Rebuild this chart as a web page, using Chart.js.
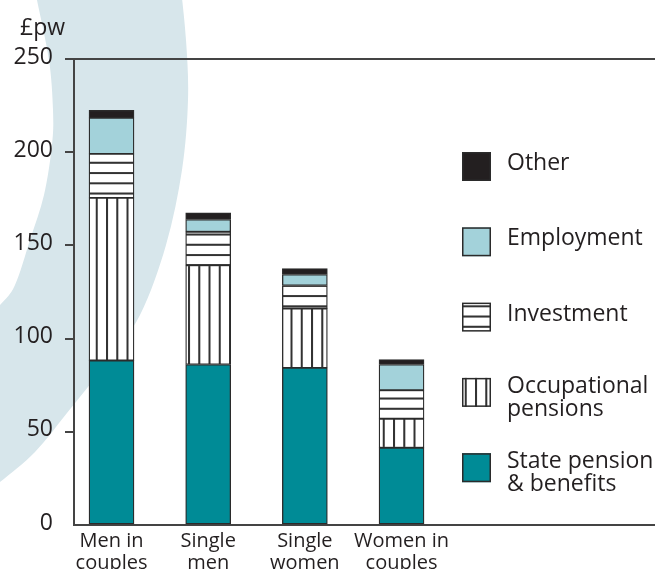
<!DOCTYPE html>
<html>
<head>
<meta charset="utf-8">
<script src="https://cdn.jsdelivr.net/npm/chart.js@4.4.1/dist/chart.umd.min.js"></script>
<style>
  html, body { margin: 0; padding: 0; background: #ffffff; }
  canvas { display: block; }
</style>
</head>
<body>
<canvas id="myChart" width="655" height="569"></canvas>
<script>
// Données (£ par semaine)
const categories = [['Men in', 'couples'], ['Single', 'men'], ['Single', 'women'], ['Women in', 'couples']];
const seriesLabels = ['State pension & benefits', 'Occupational pensions', 'Investment', 'Employment', 'Other'];
const legendLines = [['State pension', '& benefits'], ['Occupational', 'pensions'], ['Investment'], ['Employment'], ['Other']];
const statePension = [88.3, 86.1, 84.3, 41.4];
const occupational = [87.2, 53.3, 31.8, 15.6];
const investment = [23.6, 17.9, 12.4, 15.3];
const employment = [19.3, 6.6, 5.9, 13.8];
const other = [4.0, 3.6, 3.2, 2.7];
const yTicks = [0, 50, 100, 150, 200, 250];

const textColor = '#231f20';
const lineColor = '#444444';
const fontFamily = '"Open Sans", "DejaVu Sans", sans-serif';
const fontWeight = '500';

var canvas = document.getElementById('myChart');
var ctx = canvas.getContext('2d');

// Motif hachuré (lignes verticales ou horizontales)
function makeStripes(vertical) {
    const tile = document.createElement('canvas');
    tile.width = 10;
    tile.height = 10;
    const t = tile.getContext('2d');
    t.fillStyle = '#ffffff';
    t.fillRect(0, 0, 10, 10);
    t.fillStyle = '#333333';
    if (vertical) {
        t.fillRect(0, 0, 2, 10);
    } else {
        t.fillRect(0, 0, 10, 2);
    }
    const pattern = ctx.createPattern(tile, 'repeat');
    if (vertical) {
        pattern.setTransform(new DOMMatrix().translate(3.45, 0).scale(1.025, 1));
    } else {
        pattern.setTransform(new DOMMatrix().translate(0, 8).scale(1, 1.025));
    }
    return pattern;
}

const fills = ['#008b96', makeStripes(true), makeStripes(false), '#a3d2da', '#231f20'];
const values = [statePension, occupational, investment, employment, other];

function toPoints(arr) {
    return arr.map((v, i) => ({ x: i, y: v }));
}

// Forme décorative en arrière-plan
function smoothThrough(c, pts) {
    c.lineTo(pts[0][0], pts[0][1]);
    for (let i = 0; i < pts.length - 1; i++) {
        const p0 = pts[i - 1] || pts[i], p1 = pts[i], p2 = pts[i + 1], p3 = pts[i + 2] || p2;
        c.bezierCurveTo(
            p1[0] + (p2[0] - p0[0]) / 6, p1[1] + (p2[1] - p0[1]) / 6,
            p2[0] - (p3[0] - p1[0]) / 6, p2[1] - (p3[1] - p1[1]) / 6,
            p2[0], p2[1]);
    }
}

const backdrop = {
    id: 'backdrop',
    beforeDraw(chart) {
        const c = chart.ctx;
        c.save();
        c.fillStyle = '#ffffff';
        c.fillRect(0, 0, chart.width, chart.height);
        c.beginPath();
        c.moveTo(33, -30);
        smoothThrough(c, [[180, -20], [186, 40], [188, 100], [182, 170], [166, 245], [140, 315], [105, 365], [67, 413], [35, 452], [0, 482], [-25, 500]]);
        c.lineTo(-40, 500);
        c.lineTo(-40, 330);
        smoothThrough(c, [[-25, 330], [0, 305], [15, 285], [30, 240], [44, 195], [52, 145], [53, 110], [49, 60], [37, 0], [33, -20]]);
        c.closePath();
        c.fillStyle = '#d7e6eb';
        c.fill();
        c.restore();
    },
    afterDraw(chart) {
        const c = chart.ctx;
        c.save();
        c.fillStyle = textColor;
        c.font = fontWeight + ' 23px ' + fontFamily;
        c.textBaseline = 'alphabetic';
        c.fillText('£pw', 20, 35);
        c.restore();
    }
};

// Légende à droite, dessinée par-dessus la zone du graphique
const sideLegend = {
    id: 'sideLegend',
    afterDraw(chart) {
        const c = chart.ctx;
        const sets = chart.data.datasets;
        c.save();
        c.font = fontWeight + ' 23px ' + fontFamily;
        c.textBaseline = 'alphabetic';
        for (let k = 0; k < sets.length; k++) {
            const idx = sets.length - 1 - k;
            const ds = sets[idx];
            const top = 152 + k * 75.3;
            c.fillStyle = ds.backgroundColor;
            c.fillRect(462, top, 29, 29);
            c.strokeStyle = '#2b2b2b';
            c.lineWidth = 1.5;
            c.strokeRect(462.75, top + 0.75, 27.5, 27.5);
            c.fillStyle = textColor;
            const lines = legendLines[idx];
            if (lines.length === 1) {
                c.fillText(lines[0], 507, top + 18);
            } else {
                c.fillText(lines[0], 507, top + 15);
                c.fillText(lines[1], 507, top + 38);
            }
        }
        c.restore();
    }
};

const datasets = seriesLabels.map((label, s) => ({
    label: label,
    data: toPoints(values[s]),
    backgroundColor: fills[s],
    borderColor: '#2b2b2b',
    borderWidth: 1.3,
    borderSkipped: false,
    barThickness: 45
}));

var myChart = new Chart(ctx, {
    type: 'bar',
    data: { datasets: datasets },
    options: {
        responsive: false,
        animation: false,
        layout: { padding: { top: 59, left: 0, right: 0, bottom: 0 } },
        plugins: {
            legend: { display: false },
            tooltip: { enabled: false }
        },
        scales: {
            x: {
                type: 'linear',
                stacked: true,
                offset: false,
                min: -0.388,
                max: 5.622,
                afterBuildTicks: (scale) => {
                    scale.ticks = categories.map((c, i) => ({ value: i }));
                },
                afterFit: (scale) => { scale.height = 44; },
                grid: { display: false, drawTicks: false, offset: false },
                border: { display: true, color: lineColor, width: 2 },
                ticks: {
                    callback: (v) => categories[v],
                    color: textColor,
                    font: { family: fontFamily, size: 20, weight: fontWeight, lineHeight: 1.1 },
                    padding: 5,
                    maxRotation: 0,
                    autoSkip: false
                }
            },
            y: {
                stacked: true,
                min: 0,
                max: 250,
                afterBuildTicks: (scale) => {
                    scale.ticks = yTicks.map(v => ({ value: v }));
                },
                afterFit: (scale) => { scale.width = 74; },
                grid: {
                    color: (c) => (c.tick && c.tick.value === 250 ? lineColor : 'rgba(0,0,0,0)'),
                    tickColor: (c) => (c.tick && c.tick.value === 0 ? 'rgba(0,0,0,0)' : lineColor),
                    lineWidth: 2,
                    tickLength: 9
                },
                border: { display: true, color: lineColor, width: 2 },
                ticks: {
                    color: textColor,
                    font: { family: fontFamily, size: 23, weight: fontWeight },
                    padding: 12,
                    labelOffset: -2
                }
            }
        }
    },
    plugins: [backdrop, sideLegend]
});
</script>
</body>
</html>
